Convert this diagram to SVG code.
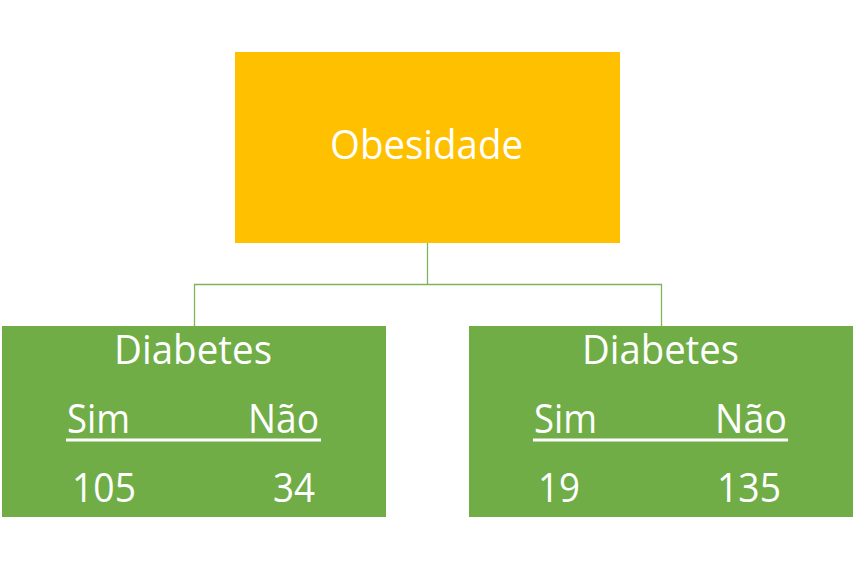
<svg xmlns="http://www.w3.org/2000/svg" width="863" height="568" viewBox="0 0 863 568">
<style>
.t{font-family:"Open Sans","Liberation Sans",sans-serif;font-size:40px;fill:#FFFFFF}
.conn{stroke:#7DB55A;stroke-width:1.3;fill:none}
.ul{stroke:#FFFFFF;stroke-width:2.8}
</style>
<rect width="863" height="568" fill="#FFFFFF"/>
<g id="connectors">
<path class="conn" d="M427.5,243 V284.5 M194.5,326 V284.5 H661.5 V326"/>
</g>
<g id="obesidade">
<rect x="235" y="52" width="385" height="191" fill="#FFC000"/>
<text class="t" x="330" y="159" textLength="193" lengthAdjust="spacingAndGlyphs">Obesidade</text>
</g>
<g id="diabetes-sim">
<rect x="2" y="326" width="384" height="191" fill="#70AD47"/>
<text class="t" x="114" y="364" textLength="158" lengthAdjust="spacingAndGlyphs">Diabetes</text>
<text class="t" x="67" y="433" textLength="63" lengthAdjust="spacingAndGlyphs">Sim</text>
<text class="t" x="248" y="433" textLength="71" lengthAdjust="spacingAndGlyphs">Não</text>
<line class="ul" x1="66" y1="440" x2="321" y2="440"/>
<text class="t" x="72" y="502" textLength="64" lengthAdjust="spacingAndGlyphs">105</text>
<text class="t" x="273" y="502" textLength="42" lengthAdjust="spacingAndGlyphs">34</text>
</g>
<g id="diabetes-nao">
<rect x="469" y="326" width="384" height="191" fill="#70AD47"/>
<text class="t" x="582" y="364" textLength="157" lengthAdjust="spacingAndGlyphs">Diabetes</text>
<text class="t" x="534" y="433" textLength="63" lengthAdjust="spacingAndGlyphs">Sim</text>
<text class="t" x="715" y="433" textLength="72" lengthAdjust="spacingAndGlyphs">Não</text>
<line class="ul" x1="533" y1="440" x2="788" y2="440"/>
<text class="t" x="538" y="502" textLength="42" lengthAdjust="spacingAndGlyphs">19</text>
<text class="t" x="717" y="502" textLength="64" lengthAdjust="spacingAndGlyphs">135</text>
</g>
</svg>
